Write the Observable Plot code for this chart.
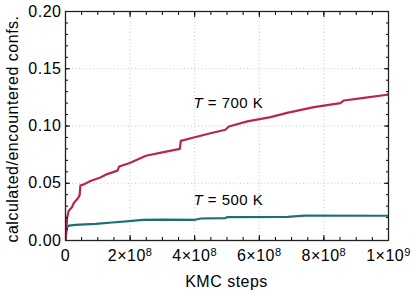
<!DOCTYPE html>
<html><head><meta charset="utf-8">
<script src="https://cdn.jsdelivr.net/npm/d3@7"></script>
<script src="https://cdn.jsdelivr.net/npm/@observablehq/plot@0.6"></script>
<style>
body{margin:0;background:#fff}
</style>
</head><body><div id="chart"></div>
<script>
// T = 700 K series (KMC steps, fraction)
const redSteps = [0, 0.02e8, 0.03e8, 0.05e8, 0.1e8, 0.2e8, 0.26e8, 0.36e8, 0.41e8, 0.44e8,
  0.46e8, 0.57e8, 0.77e8, 1.08e8, 1.29e8, 1.61e8, 1.66e8, 1.97e8, 2.49e8, 3.00e8,
  3.54e8, 3.57e8, 3.97e8, 4.49e8, 4.95e8, 5.06e8, 5.63e8, 6.35e8, 6.86e8, 7.69e8,
  8.51e8, 8.62e8, 9.24e8, 9.96e8, 10e8];
const redFrac = [0, 0.007, 0.012, 0.020, 0.026, 0.029, 0.033, 0.036, 0.038, 0.040,
  0.048, 0.049, 0.052, 0.055, 0.058, 0.061, 0.0646, 0.0675, 0.074, 0.077,
  0.080, 0.087, 0.090, 0.0937, 0.0967, 0.0996, 0.104, 0.1077, 0.1115, 0.1165,
  0.120, 0.1223, 0.1246, 0.1273, 0.128];
// T = 500 K series
const tealSteps = [0, 0.01e8, 0.03e8, 0.05e8, 0.1e8, 0.3e8, 0.93e8, 1.45e8, 1.97e8, 2.38e8,
  3.0e8, 4.0e8, 4.2e8, 4.95e8, 5.0e8, 6.87e8, 7.4e8, 10e8];
const tealFrac = [0, 0.0035, 0.0087, 0.0116, 0.013, 0.0137, 0.0146, 0.0157, 0.0169, 0.018,
  0.0183, 0.0181, 0.0192, 0.0195, 0.0204, 0.0206, 0.0218, 0.0216];

const xTicks = [0, 2e8, 4e8, 6e8, 8e8, 1e9];
const xMinorTicks = d3.range(0, 21).map(i => i * 5e7);
const yTicks = [0, 0.05, 0.10, 0.15, 0.20];
const yMinorTicks = d3.range(0, 21).map(i => i * 0.01);
const xGrid = [2e8, 4e8, 6e8, 8e8];
const yGrid = [0.05, 0.10, 0.15];
const labels = [
  {steps: 3.96e8, frac: 0.1153, label: "T = 700 K"},
  {steps: 3.96e8, frac: 0.0306, label: "T = 500 K"}
];
const xLabel = "KMC steps";
const yLabel = "calculated/encountered confs.";

const red = redSteps.map((s, i) => ({steps: s, frac: redFrac[i]}));
const teal = tealSteps.map((s, i) => ({steps: s, frac: tealFrac[i]}));

const supDigits = {"0":"⁰","1":"¹","2":"²","3":"³","4":"⁴","5":"⁵","6":"⁶","7":"⁷","8":"⁸","9":"⁹"};
const fmtX = d => {
  if (d === 0) return "0";
  const e = Math.floor(Math.log10(d) + 1e-9);
  const m = Math.round(d / 10 ** e);
  return `${m}×10` + String(e).split("").map(c => supDigits[c]).join("");
};

const W = 415, H = 293;
const ml = 65, mr = 27, mt = 11, mb = 53;

const plot = Plot.plot({
  width: W, height: H,
  marginLeft: ml, marginRight: mr, marginTop: mt, marginBottom: mb,
  style: {fontFamily: "'Liberation Sans', Arial, sans-serif", fontSize: "16px", color: "black", background: "white", letterSpacing: "0.5px"},
  x: {domain: [0, 1e9]},
  y: {domain: [0, 0.2]},
  marks: [
    Plot.gridX(xGrid, {stroke: "#b8b8b8", strokeOpacity: 1, strokeWidth: 0.8, strokeDasharray: "1,2.5"}),
    Plot.gridY(yGrid, {stroke: "#b8b8b8", strokeOpacity: 1, strokeWidth: 0.8, strokeDasharray: "1,2.5"}),
    Plot.line(teal, {x: "steps", y: "frac", stroke: "#1f6f6f", strokeWidth: 2.2, clip: true}),
    Plot.line(red, {x: "steps", y: "frac", stroke: "#b8264b", strokeWidth: 2.2, clip: true}),
    Plot.text(labels, {x: "steps", y: "frac", text: "label", textAnchor: "start", lineAnchor: "bottom", fontSize: 15, fill: "black"}),
    // minor ticks
    Plot.axisX({anchor: "bottom", ticks: xMinorTicks, tickSize: -3, fill: "none", label: null}),
    Plot.axisX({anchor: "top", ticks: xMinorTicks, tickSize: -3, fill: "none", label: null}),
    Plot.axisY({anchor: "left", ticks: yMinorTicks, tickSize: -3, fill: "none", label: null}),
    Plot.axisY({anchor: "right", ticks: yMinorTicks, tickSize: -3, fill: "none", label: null}),
    // major ticks
    Plot.axisX({anchor: "bottom", ticks: xTicks, tickSize: -5, fill: "none", label: null}),
    Plot.axisX({anchor: "top", ticks: xTicks, tickSize: -5, fill: "none", label: null}),
    Plot.axisY({anchor: "left", ticks: yTicks, tickSize: -5, fill: "none", label: null}),
    Plot.axisY({anchor: "right", ticks: yTicks, tickSize: -5, fill: "none", label: null}),
    // labels
    Plot.axisX({anchor: "bottom", ticks: xTicks, tickSize: 0, tickPadding: 9, tickFormat: fmtX, label: null}),
    Plot.axisY({anchor: "left", ticks: yTicks, tickSize: 0, tickPadding: 4, tickFormat: d3.format(".2f"), label: null}),
    Plot.frame({stroke: "#222", strokeWidth: 1.3})
  ]
});

const svg = d3.select(plot);
// superscript exponents on x tick labels, italic T in annotations
svg.selectAll("text").each(function() {
  const t = d3.select(this);
  const s = t.text();
  const m = s.match(/^(\d+×10)([⁰¹²³⁴⁵⁶⁷⁸⁹]+)$/);
  if (m) {
    const inv = Object.fromEntries(Object.entries(supDigits).map(([k, v]) => [v, k]));
    const exp = m[2].split("").map(c => inv[c]).join("");
    t.text(m[1]);
    t.append("tspan").attr("dy", "-0.45em").style("font-size", "11px").text(exp);
  }
  const a = s.match(/^T( = .*)$/);
  if (a) {
    t.text("");
    t.append("tspan").style("font-style", "italic").text("T");
    t.append("tspan").text(a[1]);
  }
});
// axis titles
svg.append("text")
  .attr("x", (ml + (W - mr)) / 2).attr("y", 287)
  .attr("text-anchor", "middle").attr("fill", "black")
  .text(xLabel);
svg.append("text")
  .attr("transform", `translate(18,129) rotate(-90)`)
  .attr("text-anchor", "middle").attr("fill", "black")
  .text(yLabel);

document.getElementById("chart").appendChild(plot);
</script>
</body></html>
